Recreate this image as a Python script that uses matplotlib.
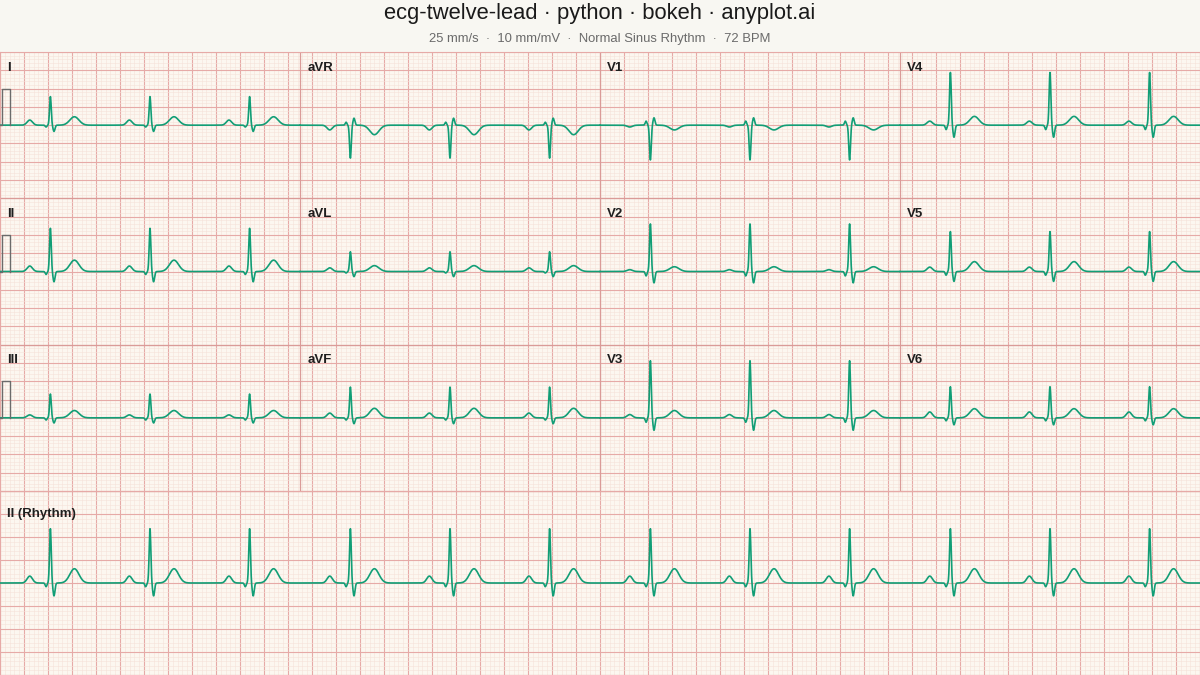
import numpy as np
import matplotlib
matplotlib.use("Agg")
import matplotlib.pyplot as plt
from matplotlib.ticker import MultipleLocator

plt.rcParams["font.family"] = ["Liberation Sans", "DejaVu Sans"]

# layout of the 12-lead sheet (rows x columns), rhythm strip below
lead_grid = [["I", "aVR", "V1", "V4"],
             ["II", "aVL", "V2", "V5"],
             ["III", "aVF", "V3", "V6"]]
rhythm_lead = "II"

# R-peak times in seconds (72 BPM)
beat_times = [0.42, 1.25, 2.08, 2.92, 3.75, 4.58, 5.42, 6.25, 7.08, 7.92, 8.75, 9.58]

# wave amplitudes per lead in mV: P, Q, R, S, T
p_amp = {"I": 0.14, "II": 0.15, "III": 0.08, "aVR": -0.13, "aVL": 0.10, "aVF": 0.13,
         "V1": -0.05, "V2": 0.05, "V3": 0.09, "V4": 0.11, "V5": 0.12, "V6": 0.16}
q_amp = {"I": -0.05, "II": -0.08, "III": -0.06, "aVR": 0.08, "aVL": -0.04, "aVF": -0.06,
         "V1": 0.11, "V2": -0.12, "V3": -0.12, "V4": -0.12, "V5": -0.10, "V6": -0.08}
r_amp = {"I": 0.78, "II": 1.18, "III": 0.65, "aVR": -0.90, "aVL": 0.54, "aVF": 0.84,
         "V1": -0.95, "V2": 1.30, "V3": 1.56, "V4": 1.44, "V5": 1.09, "V6": 0.85}
s_amp = {"I": -0.17, "II": -0.28, "III": -0.14, "aVR": 0.19, "aVL": -0.14, "aVF": -0.16,
         "V1": 0.20, "V2": -0.31, "V3": -0.34, "V4": -0.33, "V5": -0.27, "V6": -0.19}
t_amp = {"I": 0.23, "II": 0.31, "III": 0.20, "aVR": -0.26, "aVL": 0.16, "aVF": 0.26,
         "V1": -0.13, "V2": 0.13, "V3": 0.20, "V4": 0.24, "V5": 0.27, "V6": 0.25}

# wave timing relative to R peak (s) and width (s)
wave_offset = {"P": -0.172, "Q": -0.036, "R": 0.0, "S": 0.03, "T": 0.20}
wave_width = {"P": 0.022, "Q": 0.007, "R": 0.007, "S": 0.008, "T": 0.038}

title = "ecg-twelve-lead \u00b7 python \u00b7 bokeh \u00b7 anyplot.ai"
subtitle = "25 mm/s  \u00b7  10 mm/mV  \u00b7  Normal Sinus Rhythm  \u00b7  72 BPM"

PAPER = "#FCF7F0"
BG = "#F8F7F2"
MINOR = "#F5E2DA"
MAJOR = "#E6AAA7"
SEP = "#DA9B98"
TRACE = "#119E76"
CAL = "#6B6B6B"

SEG = 2.5  # seconds per column
t = np.linspace(0, 10, 6001)


def lead_signal(name, tt):
    amps = {"P": p_amp[name], "Q": q_amp[name], "R": r_amp[name],
            "S": s_amp[name], "T": t_amp[name]}
    y = np.zeros_like(tt)
    for bt in beat_times:
        for w, a in amps.items():
            y += a * np.exp(-0.5 * ((tt - bt - wave_offset[w]) / wave_width[w]) ** 2)
    return y


def paper_grid(ax, ymin, ymax):
    ax.set_facecolor(PAPER)
    ax.set_xlim(0, 10)
    ax.set_ylim(ymin, ymax)
    ax.xaxis.set_major_locator(MultipleLocator(0.2))
    ax.xaxis.set_minor_locator(MultipleLocator(0.04))
    ax.yaxis.set_major_locator(MultipleLocator(0.5))
    ax.yaxis.set_minor_locator(MultipleLocator(0.1))
    ax.grid(which="minor", color=MINOR, lw=0.4)
    ax.grid(which="major", color=MAJOR, lw=0.8)
    ax.tick_params(which="both", length=0, labelbottom=False, labelleft=False)
    ax.set_axisbelow(True)
    for sp in ax.spines.values():
        sp.set_color(MAJOR)
        sp.set_linewidth(0.8)


fig = plt.figure(figsize=(12, 6.75), dpi=100, facecolor=BG)
ax = fig.add_axes([0, 184 / 675, 1, 439 / 675])
axr = fig.add_axes([0, 0, 1, 184 / 675])

# main 3x4 sheet: each row spans 4 mV, baseline centred
paper_grid(ax, 0, 12)
for ri, row in enumerate(lead_grid):
    base = 10 - 4 * ri
    for ci, name in enumerate(row):
        m = (t >= ci * SEG) & (t <= (ci + 1) * SEG)
        ax.plot(t[m], base + lead_signal(name, t[m]), color=TRACE, lw=1.2, zorder=3)
        ax.text(ci * SEG + 0.06, base + 1.57, name, fontsize=9.5, fontweight="bold",
                color="#1E1E1E", va="center", ha="left", zorder=4)
    # 1 mV calibration pulse
    ax.plot([0.0, 0.02, 0.02, 0.08, 0.08], [base, base, base + 1, base + 1, base],
            color=CAL, lw=1.0, zorder=4)
for xs in [2.5, 5.0, 7.5]:
    ax.axvline(xs, color=SEP, lw=0.9, zorder=2)
for ys in [4, 8]:
    ax.axhline(ys, color=SEP, lw=0.9, zorder=2)

# rhythm strip
paper_grid(axr, -2, 2)
axr.plot(t, lead_signal(rhythm_lead, t), color=TRACE, lw=1.2, zorder=3)
axr.text(0.06, 1.5, rhythm_lead + " (Rhythm)", fontsize=9.5, fontweight="bold",
         color="#1E1E1E", va="center", ha="left", zorder=4)
axr.axhline(2, color=SEP, lw=0.9, zorder=2)

fig.text(0.5, 1 - 14 / 675, title, ha="center", va="center", fontsize=15.8, color="#1A1A1A")
fig.text(0.5, 1 - 39 / 675, subtitle, ha="center", va="center", fontsize=9.4, color="#6A6A6A")

fig.savefig("out.png", dpi=100, facecolor=BG)
